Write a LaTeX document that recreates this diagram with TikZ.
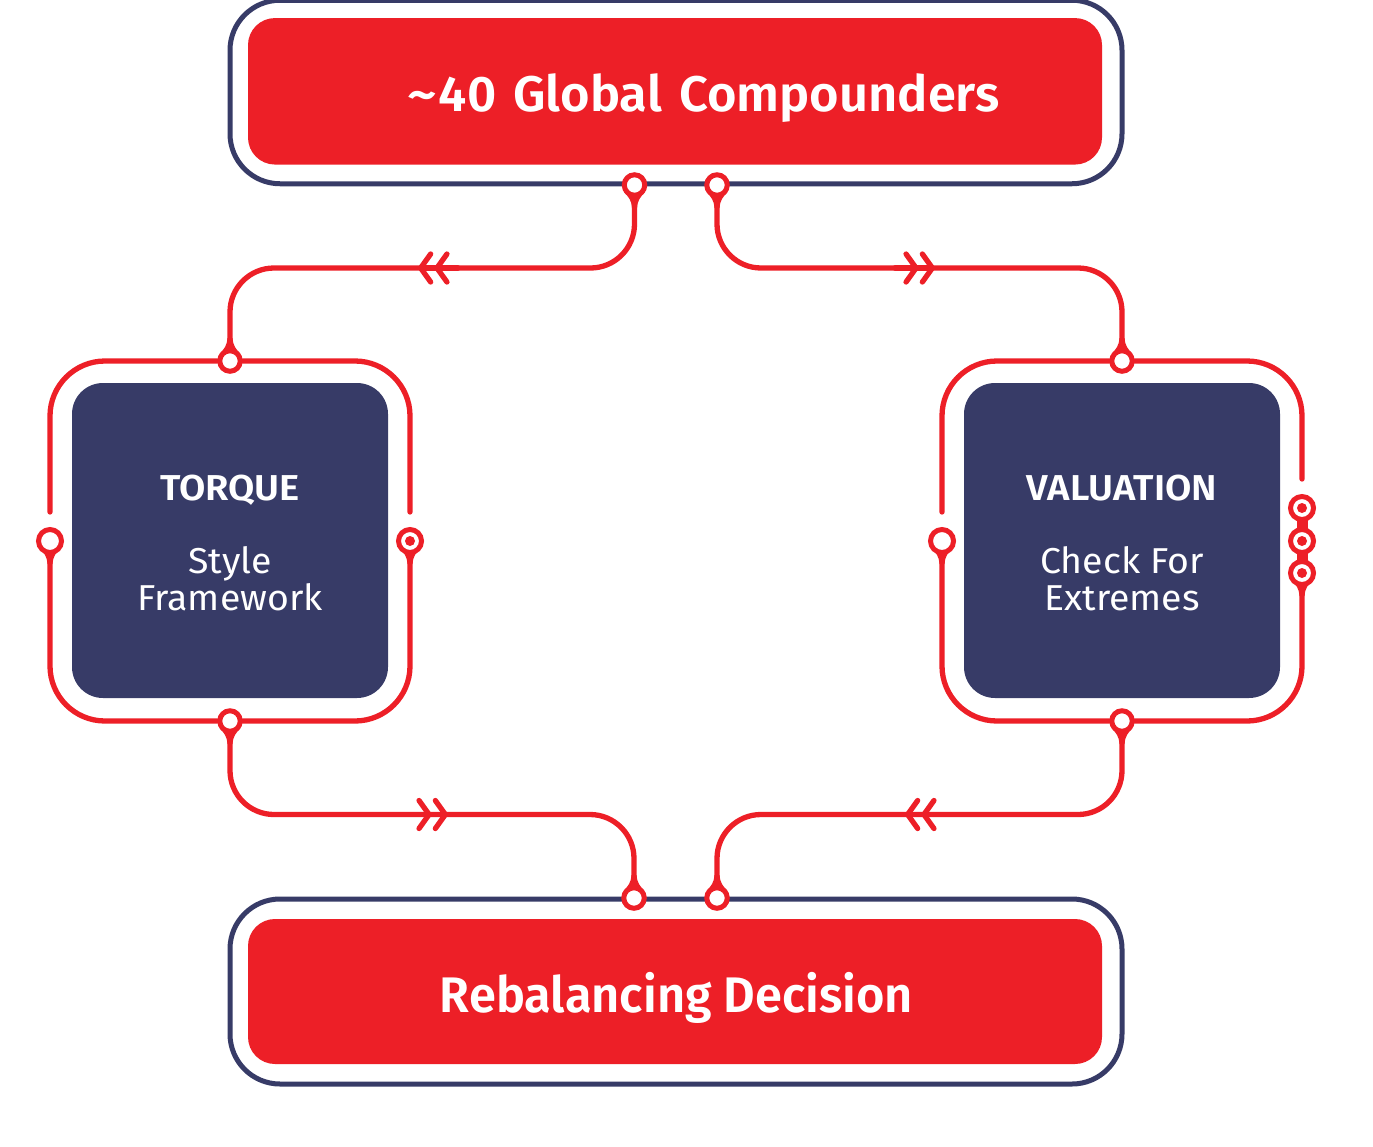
\documentclass[tikz,border=0pt]{standalone}
\usepackage{fontspec}
\setmainfont[FakeStretch=1.04]{Fira Sans}
\newfontfamily\semifont[FakeStretch=1.06]{Fira Sans SemiBold}
\usetikzlibrary{arrows.meta}
\definecolor{wirered}{HTML}{ED1F27}
\definecolor{boxnavy}{HTML}{373B67}
\tikzset{
	frame/.style={draw=boxnavy, line width=5pt, fill=white, rounded corners=50pt, minimum width=892pt, inner sep=0pt},
	redbox/.style={fill=wirered, rounded corners=27pt, minimum width=854pt, inner sep=0pt},
	navybox/.style={fill=boxnavy, rounded corners=31pt, minimum width=316pt, minimum height=315pt, inner sep=0pt},
	navytext/.style={text=white, align=center, inner sep=0pt, font=\fontsize{36}{37}\selectfont},
	titletext/.style={text=white, font=\fontsize{50}{50}\semifont, inner sep=0pt, anchor=base},
	pin/.style={circle, draw=wirered, line width=5pt, fill=white, minimum size=20.5pt, inner sep=0pt},
	bigpin/.style={pin, minimum size=23pt},
	dotpin/.style={bigpin, path picture={\fill[wirered] (path picture bounding box.center) circle (5pt);}},
	wire/.style={draw=wirered, line width=5.3pt, line cap=round},
	chevron/.style={wire, -{Straight Barb[length=10pt, width=28pt, round, sep=1pt] Straight Barb[length=10pt, width=28pt, round]}},
}
\newcommand{\pinneck}[2]{\fill[wirered, shift={(#1)}, rotate=#2] (-10.5,7) .. controls (-6,12) and (-3,15) .. (-2.6,23) -- (2.6,23) .. controls (3,15) and (6,12) .. (10.5,7) -- (0,10) -- cycle;}
\begin{document}
\begin{tikzpicture}[x=1pt,y=-1pt]
	\useasboundingbox (0,0) rectangle (1373,1146);
	\node [frame, minimum height=183.5pt] (topframe) at (676,92) {};
	\node [frame, minimum height=185pt] (botframe) at (676,991.5) {};
	\node [redbox, minimum height=146.5pt] (topbox) at (675,91.3) {};
	\node [redbox, minimum height=145pt] (botbox) at (675,991.5) {};
	\node [titletext] (toptext) at (703.5,111) {\scalebox{0.955}[1]{\spaceskip=18pt \scalebox{1.15}[1]{\textasciitilde}\kern2pt 40 Global Compounders}};
	\node [titletext] (bottext) at (676.5,1012) {\scalebox{0.92}[1]{Rebalancing Decision}};
	\node [navybox] (torque) at (230,540.5) {};
	\node [navybox] (valuation) at (1122,540.5) {};
	\node [navytext] (torquetext) at (230,542.5) {{\semifont TORQUE}\\[36pt]Style\\Framework};
	\node [navytext] (valuationtext) at (1122,542.5) {{\semifont VALUATION}\\[36pt]Check For\\Extremes};
	%
	\node [pin] (topL) at (634.5,185) {};
	\node [pin] (topR) at (717,185) {};
	\node [pin] (botL) at (634,898) {};
	\node [pin] (botR) at (717,898) {};
	\node [pin] (torqueT) at (230,361) {};
	\node [pin] (torqueB) at (230,721) {};
	\node [pin] (valuationT) at (1122,361) {};
	\node [pin] (valuationB) at (1122,721) {};
	\node [bigpin] (torqueL) at (50,541) {};
	\node [dotpin] (torqueR) at (410,541) {};
	\node [bigpin] (valuationL) at (942,541) {};
	\node [dotpin] (valuationR1) at (1302,508) {};
	\node [dotpin] (valuationR2) at (1302,541) {};
	\node [dotpin] (valuationR3) at (1302,573) {};
	%
	\coordinate (torqueEndL) at (50,512);
	\coordinate (torqueEndR) at (410,512);
	\coordinate (valuationEndL) at (942,512);
	\coordinate (valuationEndR) at (1302,479);
	\coordinate (tipTL) at (418,268);
	\coordinate (tipTR) at (935,268);
	\coordinate (tipBL) at (448,814.5);
	\coordinate (tipBR) at (905,814.5);
	%
	\draw [wire, rounded corners=44pt] (topL) |- (tipTL) -| (torqueT);
	\draw [wire, rounded corners=44pt] (topR) |- (tipTR) -| (valuationT);
	\draw [wire, rounded corners=44pt] (torqueB) |- (tipBL) -| (botL);
	\draw [wire, rounded corners=44pt] (valuationB) |- (tipBR) -| (botR);
	\draw [chevron] ([xshift=40pt]tipTL) -- (tipTL);
	\draw [chevron] ([xshift=-40pt]tipTR) -- (tipTR);
	\draw [chevron] ([xshift=-40pt]tipBL) -- (tipBL);
	\draw [chevron] ([xshift=40pt]tipBR) -- (tipBR);
	%
	\draw [wire, rounded corners=55pt] (torqueEndL) |- (torqueT);
	\draw [wire, rounded corners=55pt] (torqueEndR) |- (torqueT);
	\draw [wire, rounded corners=55pt] (torqueL) |- (torqueB);
	\draw [wire, rounded corners=55pt] (torqueR) |- (torqueB);
	\draw [wire, rounded corners=55pt] (valuationEndL) |- (valuationT);
	\draw [wire, rounded corners=55pt] (valuationEndR) |- (valuationT);
	\draw [wire, rounded corners=55pt] (valuationL) |- (valuationB);
	\draw [wire, rounded corners=55pt] (valuationR3) |- (valuationB);
	\draw [wire, line width=11pt, line cap=butt, shorten >=-2pt, shorten <=-2pt] (valuationR1) -- (valuationR2);
	\draw [wire, line width=11pt, line cap=butt, shorten >=-2pt, shorten <=-2pt] (valuationR2) -- (valuationR3);
	%
	\pinneck{topL}{0}
	\pinneck{topR}{0}
	\pinneck{botL}{180}
	\pinneck{botR}{180}
	\pinneck{torqueT}{180}
	\pinneck{valuationT}{180}
	\pinneck{torqueB}{0}
	\pinneck{valuationB}{0}
	\pinneck{torqueL}{0}
	\pinneck{torqueR}{0}
	\pinneck{valuationL}{0}
	\pinneck{valuationR3}{0}
\end{tikzpicture}
\end{document}
